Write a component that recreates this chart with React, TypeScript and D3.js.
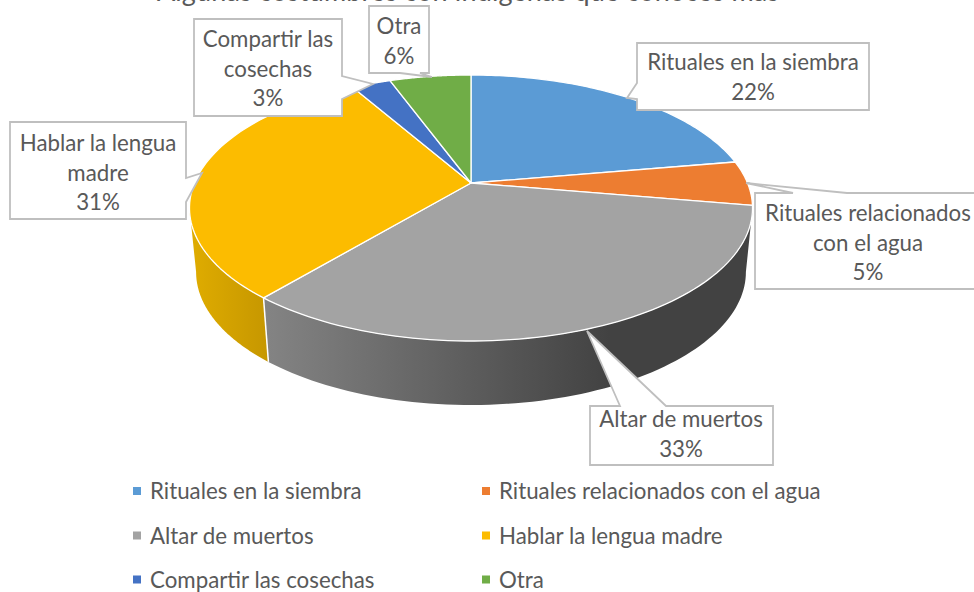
import React from "react";
import * as d3 from "d3";

const categories = ["Rituales en la siembra", "Rituales relacionados con el agua", "Altar de muertos", "Hablar la lengua madre", "Compartir las cosechas", "Otra"];
const values = [22.3, 5.4, 33.4, 30.6, 2.7, 5.6];
const colors = ["#5B9BD5", "#ED7D31", "#A3A3A3", "#FCBC00", "#4472C4", "#70AD47"];
const labelLines = [["Rituales en la siembra"], ["Rituales relacionados", "con el agua"], ["Altar de muertos"], ["Hablar la lengua", "madre"], ["Compartir las", "cosechas"], ["Otra"]];
// The reference's title is cut off at the top edge and cannot be read: this wording is a placeholder.
const titleText = "Algunas costumbres con indígenas que conoces más";

// callout outlines, in the page's pixels
const callouts: [number, number][][] = [
  [[637, 43], [869, 43], [869, 110], [637, 110], [637, 99], [627, 98], [637, 83]],
  [[755, 193], [793, 193], [746, 183], [847, 193], [980, 193], [980, 289], [755, 289]],
  [[590, 406], [620, 406], [587, 331], [666, 406], [773, 406], [773, 465], [590, 465]],
  [[10, 122], [186, 122], [186, 178], [202, 173], [186, 202], [186, 219], [10, 219]],
  [[194, 19], [342, 19], [342, 76], [373, 84], [342, 99], [342, 116], [194, 116]],
  [[369, 6], [429, 6], [429, 73], [420, 73], [432, 77], [400, 73], [369, 73]],
];
const labelAnchors = [[753, 70], [868, 221], [681, 427], [98, 151], [268, 47], [399, 34]];

const legendCols = [133, 482];
const legendRows = [491, 535.5, 579.5];

const CX = 471, CY = 183, K = 0.188, SQUASH = 128.3;
const rTop = 276.5, rBottom = 270, DEPTH = 64;
const FONT = "Lato, Carlito, Calibri, sans-serif";
const INK = "#595959";
const FS = 22.3;

type P = [number, number];
const project = (a: number, r: number, dy: number): P => {
  const w = 1 + K * Math.cos(a);
  return [CX + (r * Math.sin(a)) / w, CY + dy - (SQUASH * Math.cos(a)) / w];
};
const arcPts = (a0: number, a1: number, r: number, dy: number): P[] =>
  d3.range(0, 81).map((i) => project(a0 + ((a1 - a0) * i) / 80, r, dy));
const line = d3.line<P>().x((d) => d[0]).y((d) => d[1]);

export default function App() {
  const arcs = d3.pie<number>().sort(null)(values);
  const tangentR = Math.acos(-K);
  const tangentL = 2 * Math.PI - tangentR;
  const sideGrey = [...arcPts(tangentR, arcs[2].endAngle, rTop, 0), ...arcPts(arcs[2].endAngle, tangentR, rBottom, DEPTH)];
  const sideYellow = [...arcPts(arcs[3].startAngle, tangentL, rTop, 0), ...arcPts(tangentL, arcs[3].startAngle, rBottom, DEPTH)];
  const fmt = d3.format(".0f");
  return (
    <svg width={974} height={592} style={{ position: "fixed", left: 0, top: 0, background: "#fff" }} fontFamily={FONT}>
      <defs>
        <linearGradient id="gGrey" gradientUnits="userSpaceOnUse" x1={264} x2={610} y1={0} y2={0}>
          <stop offset="0" stopColor="#848484" />
          <stop offset="1" stopColor="#424242" />
        </linearGradient>
        <linearGradient id="gYellow" gradientUnits="userSpaceOnUse" x1={195} x2={268} y1={0} y2={0}>
          <stop offset="0" stopColor="#DEAB00" />
          <stop offset="1" stopColor="#C69700" />
        </linearGradient>
      </defs>
      <text x={468} y={1} textAnchor="middle" fontSize={27} fill={INK} textLength={622}>{titleText}</text>
      <path d={line(sideYellow)! + "Z"} fill="url(#gYellow)" />
      <path d={line(sideGrey)! + "Z"} fill="url(#gGrey)" />
      <path d={line([project(arcs[2].endAngle, rTop, 0), project(arcs[2].endAngle, rBottom, DEPTH)])!} stroke="#fff" strokeWidth={1.5} fill="none" />
      {arcs.map((s, i) => (
        <path key={i} d={line([[CX, CY], ...arcPts(s.startAngle, s.endAngle, rTop, 0)])! + "Z"} fill={colors[i]} stroke="#fff" strokeWidth={1.3} strokeLinejoin="round" />
      ))}
      {callouts.map((pts, i) => {
        const [ax, ay] = labelAnchors[i];
        const lines = [...labelLines[i], fmt(values[i]) + "%"];
        return (
          <g key={i}>
            <path d={line(pts as P[])! + "Z"} fill="#fff" stroke="#BFBFBF" strokeWidth={1.8} />
            {lines.map((t, j) => (
              <text key={j} x={ax} y={ay + j * 29.7} textAnchor="middle" fontSize={FS} fill={INK}>{t}</text>
            ))}
          </g>
        );
      })}
      {categories.map((c, i) => {
        const x = legendCols[i % 2];
        const y = legendRows[Math.floor(i / 2)];
        return (
          <g key={c}>
            <rect x={x} y={y - 4} width={8} height={8} fill={colors[i]} />
            <text x={x + 17} y={y + 8} fontSize={FS} fill={INK}>{c}</text>
          </g>
        );
      })}
    </svg>
  );
}
